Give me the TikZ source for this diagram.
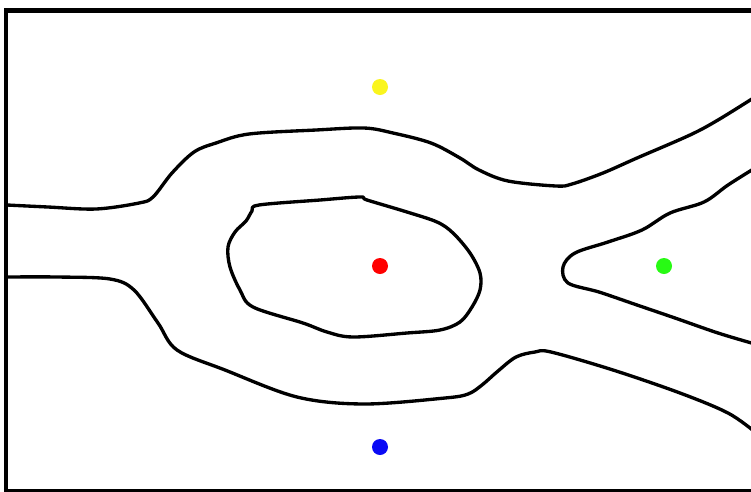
\documentclass[tikz,border=0pt]{standalone}
\usepackage{xcolor}
\usepackage{tikz}

\definecolor{dotyellow}{RGB}{250,245,30}
\definecolor{dotred}{RGB}{255,0,0}
\definecolor{dotgreen}{RGB}{40,250,20}
\definecolor{dotblue}{RGB}{10,10,245}

\begin{document}
\begin{tikzpicture}[x=0.02cm, y=-0.02cm,
    contour/.style={line width=1.9pt, line join=round, line cap=round},
    site/.style={circle, inner sep=0pt, minimum size=0.32cm}]
    \useasboundingbox (0,0) rectangle (751,491);
    \clip (0,0) rectangle (751,491);
    \fill[white] (0,0) rectangle (751,491);
    \draw[line width=2.6pt] (6,10.5) rectangle (758,491.5);
    % upper boundary: left channel, over the loop, up to the right
    \draw[contour] plot[smooth, tension=0.55] coordinates {
        (7,205) (48,207) (96,209) (139,203) (153,197) (172,173) (194,152)
        (216,143) (249,134) (316,130) (364,128) (393,133) (431,143)
        (460,158) (479,170) (508,181) (556,186) (572,184) (603,173)
        (637,158) (690,135) (718,120) (755,97)};
    % lower boundary: left channel, under the loop, down to the right
    \draw[contour] plot[smooth, tension=0.55] coordinates {
        (7,277) (57,277) (110,279) (134,290) (158,323) (177,350) (225,370)
        (297,397) (364,404) (445,398) (468,394) (482,385) (498,371)
        (516,357) (535,352) (551,352) (613,370) (680,393) (728,413)
        (755,432)};
    % wedge on the right
    \draw[contour] plot[smooth, tension=0.55] coordinates {
        (755,168) (728,185) (704,202) (670,213) (642,230) (608,242)
        (575,253) (563,267) (568,283) (599,292) (637,305) (675,318)
        (718,333) (755,344)};
    % inner loop
    \draw[contour] plot[smooth cycle, tension=0.55] coordinates {
        (259,205) (320,200) (360,197) (367,200) (407,212) (437,222)
        (453,233) (470,253) (480,273) (480,290) (472,307) (460,322)
        (440,330) (407,333) (353,337) (327,332) (303,323) (253,307)
        (240,290) (230,267) (228,247) (235,232) (246,221) (252,211)};
    % sites
    \node[site, fill=dotyellow] (top)    at (380,87)  {};
    \node[site, fill=dotred]    (centre) at (380,266) {};
    \node[site, fill=dotgreen]  (right)  at (664,266) {};
    \node[site, fill=dotblue]   (bottom) at (380,447) {};
\end{tikzpicture}
\end{document}
